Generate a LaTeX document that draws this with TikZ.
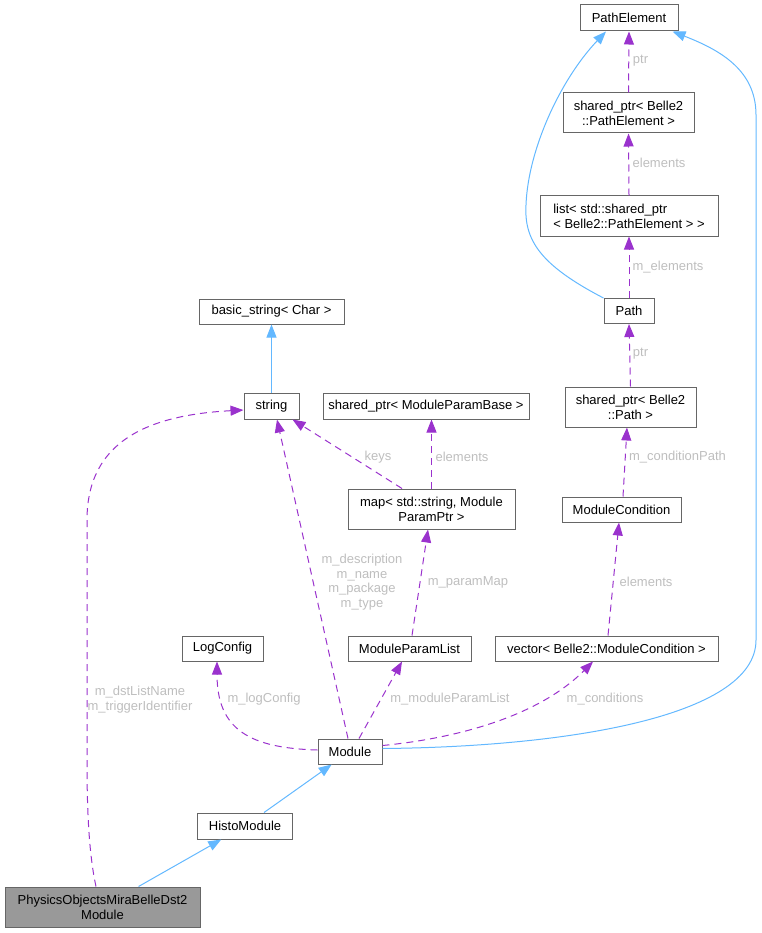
\documentclass[tikz,border=0pt]{standalone}
\usepackage{fontspec}
\setmainfont{Liberation Sans}
\usetikzlibrary{arrows.meta}
\definecolor{edgeblue}{HTML}{63B8FF}
\definecolor{edgepurple}{HTML}{9A32CD}
\definecolor{boxgray}{HTML}{666666}
\definecolor{lblgray}{HTML}{BEBEBE}
\definecolor{fillgray}{HTML}{999999}
\begin{document}
\begin{tikzpicture}[x=1pt,y=-1pt,
 cls/.style={draw=boxgray, fill=white, line width=1pt, inner sep=0pt, font=\fontsize{13}{15}\selectfont, align=center, text=black},
 inh/.style={draw=edgeblue, line width=1pt, -{Triangle[length=13pt,width=10pt]}},
 use/.style={draw=edgepurple, line width=1pt, dash pattern=on 7pt off 5pt, -{Triangle[length=13pt,width=10pt]}},
 lbl/.style={text=lblgray, font=\fontsize{13}{14.7}\selectfont, align=center, inner sep=0pt}]
\useasboundingbox (0,0) rectangle (761,933);
% nodes
\node[cls, minimum width=98pt, minimum height=26pt] (pe) at (629,18) {PathElement};
\node[cls, minimum width=131pt, minimum height=40pt] (sppe) at (628.5,113) {shared\_ptr< Belle2\\::PathElement >};
\node[cls, minimum width=178pt, minimum height=40pt, align=left] (list) at (629,216) {list< std::shared\_ptr\\< Belle2::PathElement > >};
\node[cls, minimum width=50pt, minimum height=25pt] (path) at (629,311) {Path};
\node[cls, minimum width=131pt, minimum height=40pt] (sppath) at (630.5,407) {shared\_ptr< Belle2\\::Path >};
\node[cls, minimum width=119pt, minimum height=25pt] (mc) at (621.5,509.5) {ModuleCondition};
\node[cls, minimum width=223pt, minimum height=25pt] (vec) at (606.5,648.5) {vector< Belle2::ModuleCondition >};
\node[cls, minimum width=145pt, minimum height=25pt] (basic) at (271.5,311.5) {basic\_string< Char >};
\node[cls, minimum width=55pt, minimum height=26pt] (str) at (271.5,406) {string};
\node[cls, minimum width=206pt, minimum height=26pt] (spmpb) at (426,406) {shared\_ptr< ModuleParamBase >};
\node[cls, minimum width=167pt, minimum height=40pt] (map) at (431.5,509) {map< std::string, Module\\ParamPtr >};
\node[cls, minimum width=81pt, minimum height=25pt] (logc) at (222.5,648.5) {LogConfig};
\node[cls, minimum width=123pt, minimum height=25pt] (mpl) at (409.5,648.5) {ModuleParamList};
\node[cls, minimum width=64pt, minimum height=25pt] (module) at (350,751.5) {Module};
\node[cls, minimum width=95pt, minimum height=26pt] (histo) at (245,826) {HistoModule};
\node[cls, fill=fillgray, minimum width=195pt, minimum height=40pt] (phys) at (102.5,907) {PhysicsObjectsMiraBelleDst2\\Module};
% inheritance edges
\draw[inh] (phys) -- (histo);
\draw[inh] (histo) -- (module);
\draw[inh] (str) -- (basic);
\draw[inh] ([yshift=3pt]module.east) .. controls (560,747) and (756,718) .. (756,640) -- (756,115) .. controls (756,70) and (720,50) .. ([xshift=-6pt]pe.south east);
\draw[inh] (path.north west) .. controls (540,265) and (524,240) .. (526,205) .. controls (528,150) and (560,80) .. ([xshift=-23pt]pe.south);
% usage edges
\draw[use] ([xshift=-6.5pt]phys.north) .. controls (88,850) and (87,800) .. (87,760) -- (87,520) .. controls (87,440) and (150,415) .. ([yshift=-4pt]str.west);
\node[lbl] (l1) at (140,699.5) {m\_dstListName\\m\_triggerIdentifier};
\draw[use] ([xshift=-2pt]module.north) -- ([xshift=5.5pt]str.south);
\node[lbl] (l2) at (362,582) {m\_description\\m\_name\\m\_package\\m\_type};
\draw[use] ([xshift=-29.5pt]map.north) -- ([xshift=-7pt]str.south east);
\node[lbl] (l3) at (378,457) {keys};
\draw[use] (map.north) -- (map.north |- spmpb.south);
\node[lbl] (l4) at (462,457) {elements};
\draw[use] ([xshift=2.5pt]mpl.north) -- ([xshift=-3.5pt]map.south);
\node[lbl] (l5) at (468,582) {m\_paramMap};
\draw[use] ([xshift=9pt]module.north) -- ([xshift=-7.5pt]mpl.south);
\node[lbl] (l6) at (450,699) {m\_moduleParamList};
\draw[use] ([yshift=1.5pt]module.west) .. controls (250,748) and (217,730) .. ([xshift=-5.5pt]logc.south);
\node[lbl] (l7) at (264,699) {m\_logConfig};
\draw[use] ([yshift=6pt]module.east) .. controls (460,738) and (540,715) .. ([xshift=-13.5pt]vec.south);
\node[lbl] (l8) at (605,699) {m\_conditions};
\draw[use] ([xshift=1.5pt]vec.north) -- ([xshift=-2.5pt]mc.south);
\node[lbl] (l9) at (646,582) {elements};
\draw[use] ([xshift=1.5pt]mc.north) -- ([xshift=-3.5pt]sppath.south);
\node[lbl] (l10) at (677.5,457) {m\_conditionPath};
\draw[use] (sppath.north) -- (path.south);
\node[lbl] (l11) at (640.5,354) {ptr};
\draw[use] (path.north) -- (list.south);
\node[lbl] (l12) at (668,267) {m\_elements};
\draw[use] (list.north) -- (sppe.south);
\node[lbl] (l13) at (659,163) {elements};
\draw[use] (sppe.north) -- (pe.south);
\node[lbl] (l14) at (640.5,61) {ptr};
\end{tikzpicture}
\end{document}
